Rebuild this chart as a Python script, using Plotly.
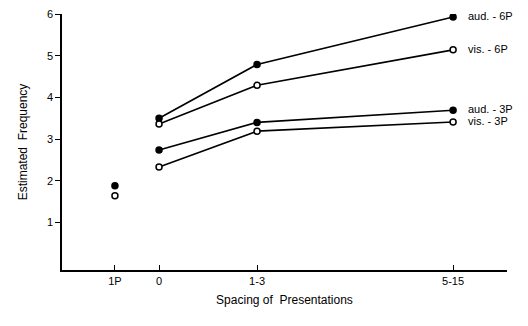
import plotly.graph_objects as go

# Data
categories = ["1P", "0", "1-3", "5-15"]
cat_pos = [-0.45, 0, 1, 3]

aud_6p = [3.50, 4.79, 5.93]
vis_6p = [3.36, 4.29, 5.14]
aud_3p = [2.74, 3.40, 3.69]
vis_3p = [2.33, 3.19, 3.41]
single_aud = 1.88
single_vis = 1.64

series = [
    ("aud. - 6P", aud_6p, True),
    ("vis. - 6P", vis_6p, False),
    ("aud. - 3P", aud_3p, True),
    ("vis. - 3P", vis_3p, False),
]

fig = go.Figure()
for name, vals, filled in series:
    fig.add_trace(go.Scatter(
        x=cat_pos[1:], y=vals, mode="lines+markers", name=name,
        line=dict(color="black", width=1.6),
        marker=dict(size=6, symbol="circle",
                    color="black" if filled else "white",
                    line=dict(color="black", width=1.5)),
        showlegend=False,
    ))
    fig.add_annotation(x=cat_pos[-1], y=vals[-1], text=name, showarrow=False,
                       xanchor="left", xshift=13, yshift=1,
                       font=dict(size=11, color="black", family="Liberation Sans"))

fig.add_trace(go.Scatter(x=[cat_pos[0]], y=[single_aud], mode="markers",
                         marker=dict(size=6, color="black", line=dict(color="black", width=1.5)),
                         showlegend=False))
fig.add_trace(go.Scatter(x=[cat_pos[0]], y=[single_vis], mode="markers",
                         marker=dict(size=6, color="white", line=dict(color="black", width=1.5)),
                         showlegend=False))

fig.update_layout(
    width=520, height=318,
    margin=dict(l=54, r=21, t=6, b=56),
    paper_bgcolor="white", plot_bgcolor="white",
    font=dict(family="Liberation Sans", size=11, color="black"),
)
fig.update_xaxes(
    range=[-0.99, 3.55], tickvals=cat_pos, ticktext=categories, automargin=False,
    showgrid=False, zeroline=False, showline=True, linecolor="black", linewidth=1.5,
    ticks="inside", ticklen=5, tickcolor="black", tickwidth=1.2,
    title=dict(text="Spacing of  Presentations", standoff=10, font=dict(size=12)),
)
fig.update_yaxes(
    range=[-0.14, 6], tickvals=[1, 2, 3, 4, 5, 6], automargin=False,
    ticklabeloverflow="allow",
    showgrid=False, zeroline=False, showline=True, linecolor="black", linewidth=1.5,
    ticks="outside", ticklen=5, tickcolor="black", tickwidth=1.2,
    title=dict(text="Estimated  Frequency", standoff=17, font=dict(size=12)),
)

fig.write_html("out.html")
